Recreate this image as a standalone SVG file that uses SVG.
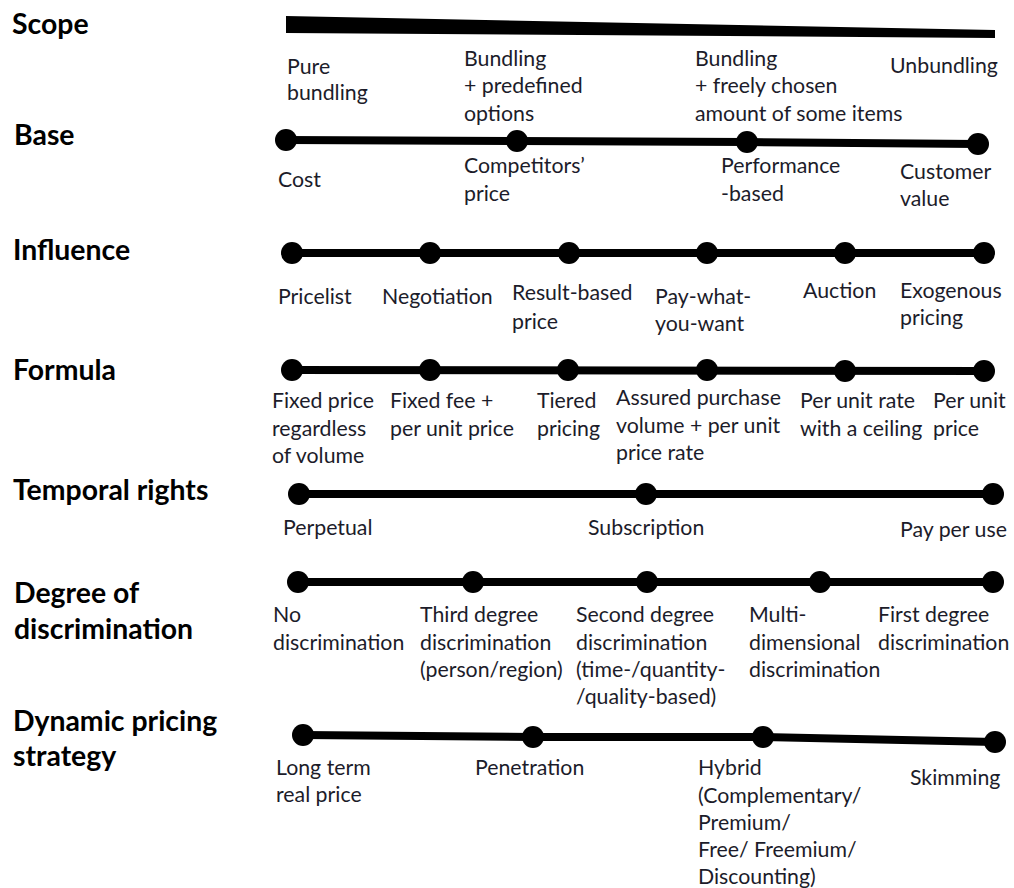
<svg xmlns="http://www.w3.org/2000/svg" width="1014" height="888" viewBox="0 0 1014 888">
  <style>
    .hdr { font-family: Lato, "Liberation Sans", sans-serif; font-weight: bold; font-size: 28.4px; fill: #000; }
    .lbl { font-family: Lato, "Liberation Sans", sans-serif; font-size: 21.3px; fill: #1c1c2a; }
    .axis { stroke: #000; stroke-width: 8; fill: none; }
    .dot { fill: #000; }
  </style>
  <rect width="1014" height="888" fill="#fff"/>

  <!-- row headings -->
  <g id="headings">
    <text class="hdr" x="12" y="34">Scope</text>
    <text class="hdr" x="14" y="145">Base</text>
    <text class="hdr" x="13" y="260">Influence</text>
    <text class="hdr" x="13" y="380">Formula</text>
    <text class="hdr" x="13" y="500">Temporal rights</text>
    <text class="hdr" x="14" y="603">Degree of</text>
    <text class="hdr" x="14" y="639">discrimination</text>
    <text class="hdr" x="13" y="731">Dynamic pricing</text>
    <text class="hdr" x="13" y="766">strategy</text>
  </g>

  <!-- axis lines of every dimension -->
  <g id="connectors">
    <polygon points="286,16 995,30 995,38 286,33" fill="#000"/>
    <polyline class="axis" points="286,140 517,141 747,142 978,144"/>
    <line class="axis" x1="292" y1="253" x2="984" y2="253"/>
    <line class="axis" x1="292" y1="370" x2="984" y2="371"/>
    <line class="axis" x1="299" y1="494" x2="993" y2="494"/>
    <line class="axis" x1="298" y1="582" x2="993" y2="582"/>
    <polyline class="axis" points="303,735 533,737 763,737 995,742"/>
  </g>

  <!-- Scope -->
  <g id="scope">
    <text class="lbl" x="287" y="74">Pure</text>
    <text class="lbl" x="287" y="100">bundling</text>
    <text class="lbl" x="464" y="66">Bundling</text>
    <text class="lbl" x="464" y="93">+ predefined</text>
    <text class="lbl" x="464" y="121">options</text>
    <text class="lbl" x="695" y="66">Bundling</text>
    <text class="lbl" x="695" y="93">+ freely chosen</text>
    <text class="lbl" x="695" y="121">amount of some items</text>
    <text class="lbl" x="890" y="73">Unbundling</text>
  </g>

  <!-- Base -->
  <g id="base">
    <circle class="dot" cx="286" cy="140" r="11"/>
    <circle class="dot" cx="517" cy="141" r="11"/>
    <circle class="dot" cx="747" cy="142" r="11"/>
    <circle class="dot" cx="978" cy="144" r="11"/>
    <text class="lbl" x="278" y="187">Cost</text>
    <text class="lbl" x="464" y="173">Competitors’</text>
    <text class="lbl" x="464" y="201">price</text>
    <text class="lbl" x="721" y="173">Performance</text>
    <text class="lbl" x="721" y="201">-based</text>
    <text class="lbl" x="900" y="179">Customer</text>
    <text class="lbl" x="900" y="206">value</text>
  </g>

  <!-- Influence -->
  <g id="influence">
    <circle class="dot" cx="292" cy="253" r="11"/>
    <circle class="dot" cx="430" cy="253" r="11"/>
    <circle class="dot" cx="569" cy="253" r="11"/>
    <circle class="dot" cx="707" cy="253" r="11"/>
    <circle class="dot" cx="845" cy="253" r="11"/>
    <circle class="dot" cx="984" cy="253" r="11"/>
    <text class="lbl" x="278" y="304">Pricelist</text>
    <text class="lbl" x="382" y="304">Negotiation</text>
    <text class="lbl" x="512" y="300">Result-based</text>
    <text class="lbl" x="512" y="329">price</text>
    <text class="lbl" x="655" y="304">Pay-what-</text>
    <text class="lbl" x="655" y="331">you-want</text>
    <text class="lbl" x="803" y="298">Auction</text>
    <text class="lbl" x="900" y="298">Exogenous</text>
    <text class="lbl" x="900" y="325">pricing</text>
  </g>

  <!-- Formula -->
  <g id="formula">
    <circle class="dot" cx="292" cy="370" r="11"/>
    <circle class="dot" cx="430" cy="370" r="11"/>
    <circle class="dot" cx="568" cy="370" r="11"/>
    <circle class="dot" cx="707" cy="370" r="11"/>
    <circle class="dot" cx="845" cy="371" r="11"/>
    <circle class="dot" cx="984" cy="371" r="11"/>
    <text class="lbl" x="272" y="408">Fixed price</text>
    <text class="lbl" x="272" y="436">regardless</text>
    <text class="lbl" x="272" y="463">of volume</text>
    <text class="lbl" x="390" y="408">Fixed fee +</text>
    <text class="lbl" x="390" y="436">per unit price</text>
    <text class="lbl" x="537" y="408">Tiered</text>
    <text class="lbl" x="537" y="436">pricing</text>
    <text class="lbl" x="616" y="405">Assured purchase</text>
    <text class="lbl" x="616" y="433">volume + per unit</text>
    <text class="lbl" x="616" y="460">price rate</text>
    <text class="lbl" x="800" y="408">Per unit rate</text>
    <text class="lbl" x="800" y="436">with a ceiling</text>
    <text class="lbl" x="933" y="408">Per unit</text>
    <text class="lbl" x="933" y="436">price</text>
  </g>

  <!-- Temporal rights -->
  <g id="temporal-rights">
    <circle class="dot" cx="299" cy="494" r="11"/>
    <circle class="dot" cx="646" cy="494" r="11"/>
    <circle class="dot" cx="993" cy="494" r="11"/>
    <text class="lbl" x="283" y="535">Perpetual</text>
    <text class="lbl" x="588" y="535">Subscription</text>
    <text class="lbl" x="900" y="537">Pay per use</text>
  </g>

  <!-- Degree of discrimination -->
  <g id="discrimination">
    <circle class="dot" cx="298" cy="582" r="11"/>
    <circle class="dot" cx="473" cy="582" r="11"/>
    <circle class="dot" cx="647" cy="582" r="11"/>
    <circle class="dot" cx="820" cy="582" r="11"/>
    <circle class="dot" cx="993" cy="582" r="11"/>
    <text class="lbl" x="273" y="622">No</text>
    <text class="lbl" x="273" y="650">discrimination</text>
    <text class="lbl" x="420" y="622">Third degree</text>
    <text class="lbl" x="420" y="650">discrimination</text>
    <text class="lbl" x="420" y="677">(person/region)</text>
    <text class="lbl" x="576" y="622">Second degree</text>
    <text class="lbl" x="576" y="650">discrimination</text>
    <text class="lbl" x="576" y="677">(time-/quantity-</text>
    <text class="lbl" x="576" y="704">/quality-based)</text>
    <text class="lbl" x="749" y="622">Multi-</text>
    <text class="lbl" x="749" y="650">dimensional</text>
    <text class="lbl" x="749" y="677">discrimination</text>
    <text class="lbl" x="878" y="622">First degree</text>
    <text class="lbl" x="878" y="650">discrimination</text>
  </g>

  <!-- Dynamic pricing strategy -->
  <g id="dynamic-pricing">
    <circle class="dot" cx="303" cy="735" r="11"/>
    <circle class="dot" cx="533" cy="737" r="11"/>
    <circle class="dot" cx="763" cy="737" r="11"/>
    <circle class="dot" cx="995" cy="742" r="11"/>
    <text class="lbl" x="276" y="775">Long term</text>
    <text class="lbl" x="276" y="802">real price</text>
    <text class="lbl" x="475" y="775">Penetration</text>
    <text class="lbl" x="698" y="775">Hybrid</text>
    <text class="lbl" x="698" y="803">(Complementary/</text>
    <text class="lbl" x="698" y="830">Premium/</text>
    <text class="lbl" x="698" y="857">Free/ Freemium/</text>
    <text class="lbl" x="698" y="884">Discounting)</text>
    <text class="lbl" x="910" y="785">Skimming</text>
  </g>
</svg>
